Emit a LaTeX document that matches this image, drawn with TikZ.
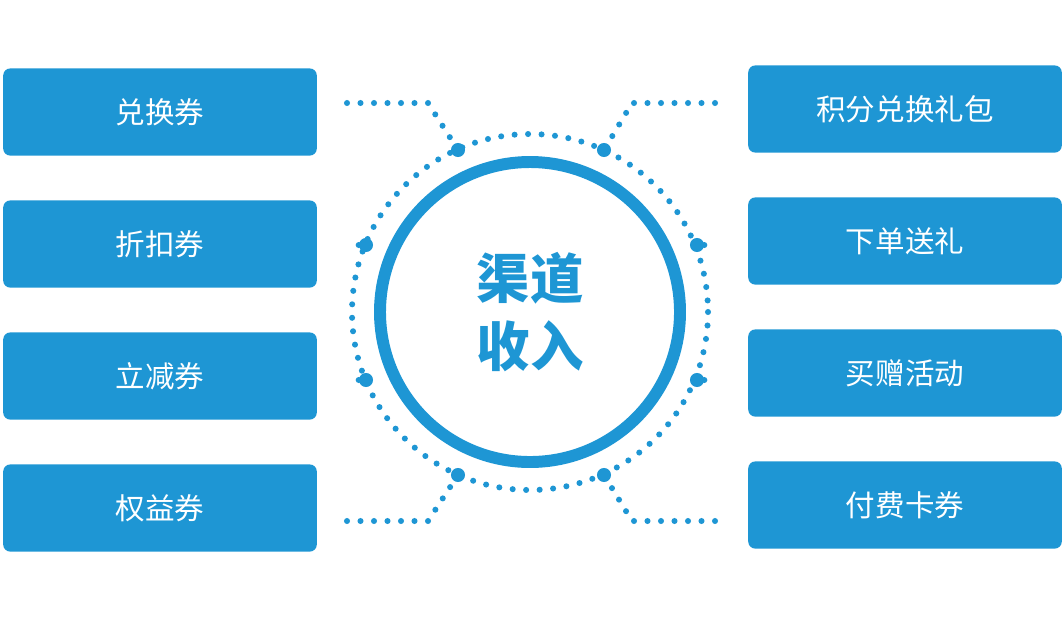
\documentclass[tikz,border=0pt]{standalone}
\usepackage{fontspec}
\setmainfont{Noto Sans CJK SC}
\usetikzlibrary{positioning}
\definecolor{chanblue}{HTML}{1E96D4}
\tikzset{
  itembox/.style={fill=chanblue,text=white,rounded corners=5pt,minimum width=223pt,minimum height=62pt,inner sep=0pt,font=\fontsize{21}{24}\selectfont},
  dotline/.style={draw=chanblue,line width=4.3pt,line cap=round,dash pattern=on 0pt off 9.6pt},
  bigdot/.style={circle,fill=chanblue,minimum size=10pt,inner sep=0pt}
}
\begin{document}
\begin{tikzpicture}[x=0.025cm,y=-0.025cm]
  \useasboundingbox (0,0) rectangle (1062,640);
  % boxes
  \node[itembox](L1) at (160,112){兑换券};
  \node[itembox](L2) at (160,244){折扣券};
  \node[itembox](L3) at (160,376){立减券};
  \node[itembox](L4) at (160,508){权益券};
  \node[itembox](R1) at (905,109){积分兑换礼包};
  \node[itembox](R2) at (905,241){下单送礼};
  \node[itembox](R3) at (905,373){买赠活动};
  \node[itembox](R4) at (905,505){付费卡券};
  % rings
  \coordinate (O) at (530,312);
  \draw[chanblue,line width=8.5pt] (O) circle (150);
  \draw[dotline] (O) circle (178);
  \node[text=chanblue,align=center,font=\fontsize{38}{48}\selectfont\bfseries] (T) at (O) {渠道\\收入};
  % junctions
  \node[bigdot](P1) at (458,150){};
  \node[bigdot](P2) at (604,150){};
  \node[bigdot](P3) at (366,245){};
  \node[bigdot](P4) at (697,245){};
  \node[bigdot](P5) at (366,380){};
  \node[bigdot](P6) at (697,380){};
  \node[bigdot](P7) at (458,475){};
  \node[bigdot](P8) at (604,475){};
  \coordinate (A1) at (347,103); \coordinate (A2) at (428,103);
  \coordinate (B1) at (715,103); \coordinate (B2) at (632,103);
  \coordinate (C1) at (347,521); \coordinate (C2) at (428,521);
  \coordinate (D1) at (715,521); \coordinate (D2) at (632,521);
  \draw[dotline] (A1) -- (A2) -- (P1);
  \draw[dotline] (B1) -- (B2) -- (P2);
  \draw[dotline] (C1) -- (C2) -- (P7);
  \draw[dotline] (D1) -- (D2) -- (P8);
  \draw[dotline] (P3) -- ++(-17,0);
  \draw[dotline] (P5) -- ++(-17,0);
  \draw[dotline] (P4) -- ++(17,0);
  \draw[dotline] (P6) -- ++(17,0);
\end{tikzpicture}
\end{document}
